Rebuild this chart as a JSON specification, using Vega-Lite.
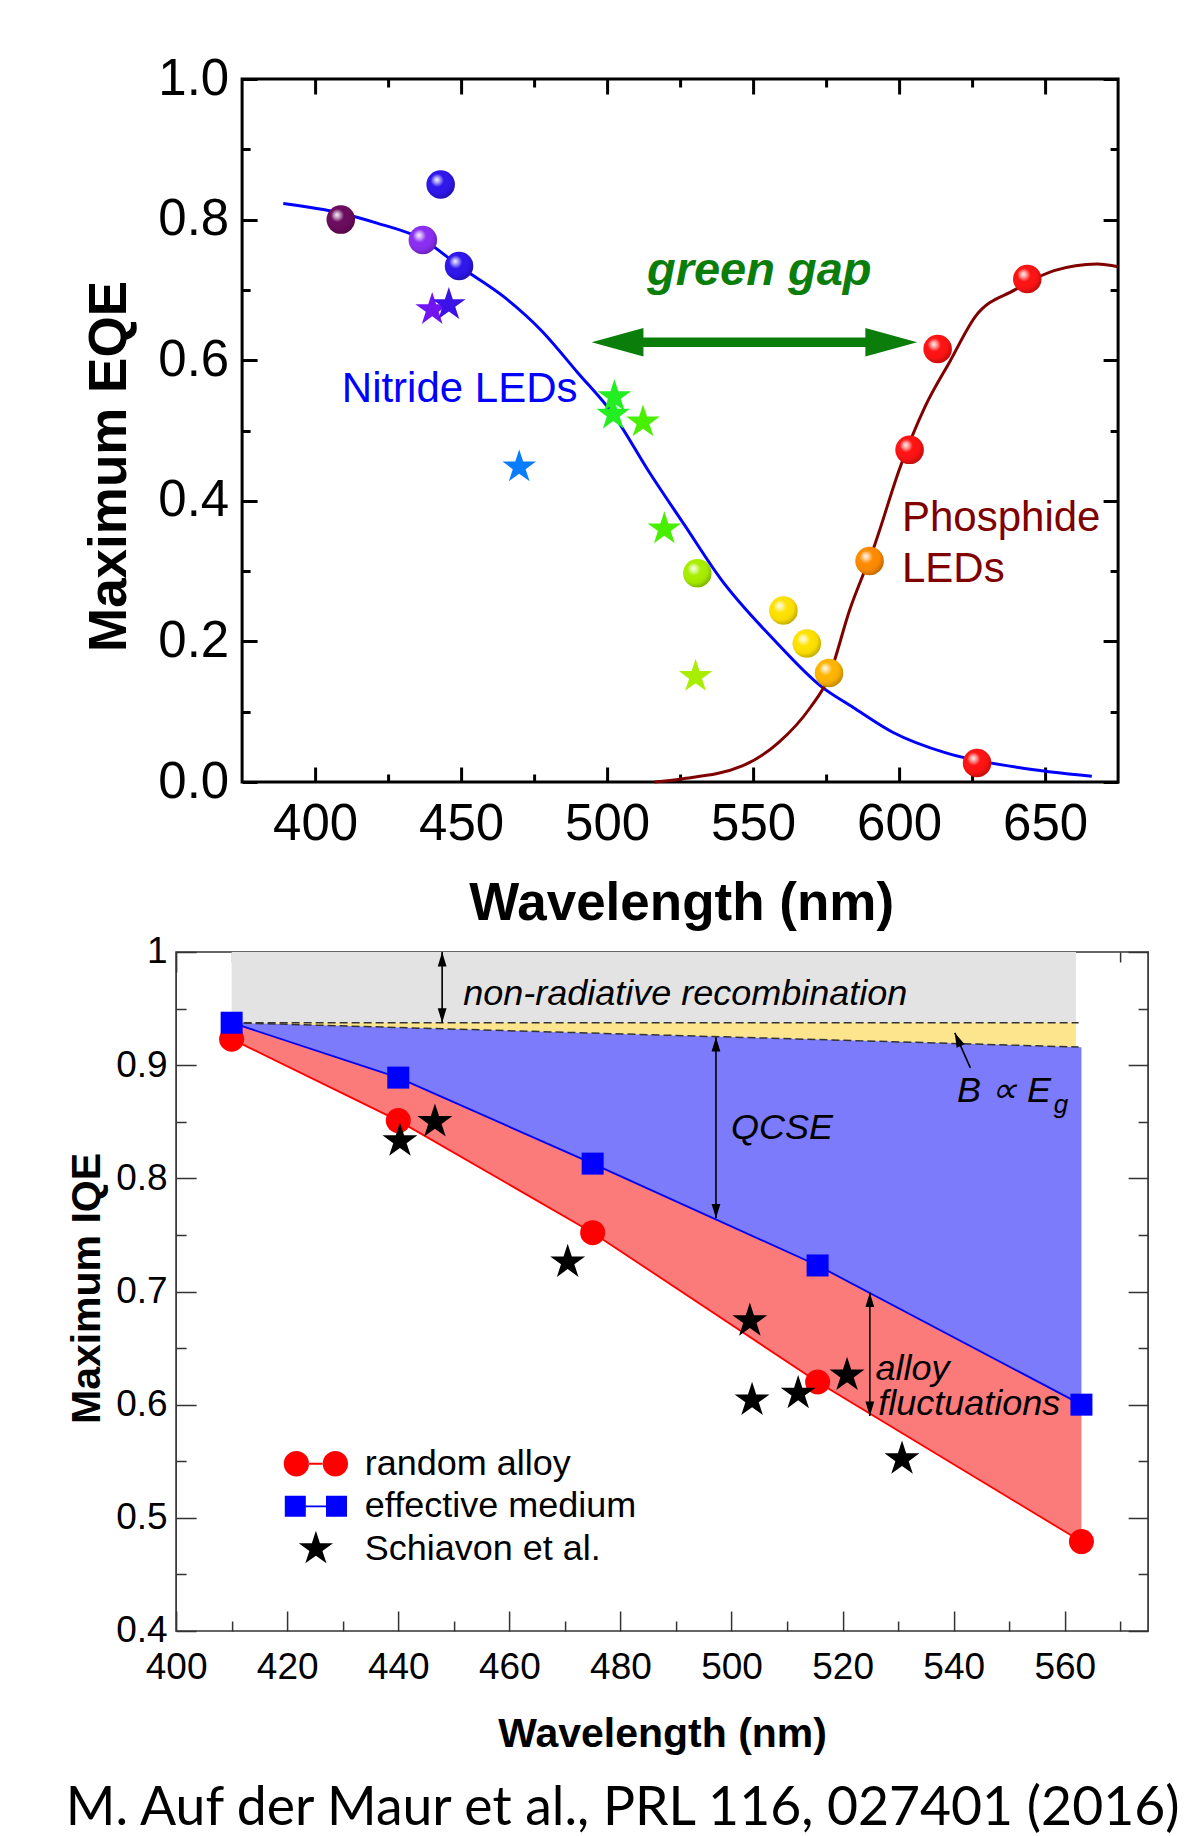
{
  "$schema": "https://vega.github.io/schema/vega-lite/v6.json",
  "background": "#ffffff",
  "padding": {"left": 65.1, "top": 51, "right": 0, "bottom": 0},
  "spacing": 0,
  "resolve": {"scale": {"color": "independent", "shape": "independent"}, "legend": {"color": "independent", "shape": "independent"}},
  "title": {"text": "M. Auf der Maur et al., PRL 116, 027401 (2016)", "orient": "bottom", "anchor": "start", "font": "Lato", "fontSize": 53.5, "fontWeight": "normal", "color": "#000000", "offset": 27.5, "dx": 0},
  "config": {
    "view": {"stroke": null},
    "axis": {"zindex": 1, "domain": false, "grid": false, "labelOverlap": false, "labelFlush": false, "labelFont": "Liberation Sans", "titleFont": "Liberation Sans", "labelColor": "#000000", "titleColor": "#000000", "titleFontWeight": "bold"},
    "text": {"font": "Liberation Sans"}
  },
  "datasets": {
    "eqeCurves": [
      {"c": "Nitride LEDs", "wl": 389.1, "eqe": 0.823},
      {"c": "Nitride LEDs", "wl": 408.6, "eqe": 0.8095},
      {"c": "Nitride LEDs", "wl": 421.2, "eqe": 0.795},
      {"c": "Nitride LEDs", "wl": 437.2, "eqe": 0.771},
      {"c": "Nitride LEDs", "wl": 449.3, "eqe": 0.734},
      {"c": "Nitride LEDs", "wl": 464.7, "eqe": 0.69},
      {"c": "Nitride LEDs", "wl": 477.3, "eqe": 0.643},
      {"c": "Nitride LEDs", "wl": 489.8, "eqe": 0.583},
      {"c": "Nitride LEDs", "wl": 502.1, "eqe": 0.523},
      {"c": "Nitride LEDs", "wl": 514.4, "eqe": 0.441},
      {"c": "Nitride LEDs", "wl": 526.6, "eqe": 0.365},
      {"c": "Nitride LEDs", "wl": 538.9, "eqe": 0.289},
      {"c": "Nitride LEDs", "wl": 557.3, "eqe": 0.2016},
      {"c": "Nitride LEDs", "wl": 573.3, "eqe": 0.136},
      {"c": "Nitride LEDs", "wl": 584.3, "eqe": 0.106},
      {"c": "Nitride LEDs", "wl": 597.8, "eqe": 0.0708},
      {"c": "Nitride LEDs", "wl": 616.3, "eqe": 0.041},
      {"c": "Nitride LEDs", "wl": 640.8, "eqe": 0.0207},
      {"c": "Nitride LEDs", "wl": 666, "eqe": 0.0082},
      {"c": "Phosphide LEDs", "wl": 516.2, "eqe": 0},
      {"c": "Phosphide LEDs", "wl": 525.4, "eqe": 0.0044},
      {"c": "Phosphide LEDs", "wl": 546.3, "eqe": 0.0229},
      {"c": "Phosphide LEDs", "wl": 558.6, "eqe": 0.0556},
      {"c": "Phosphide LEDs", "wl": 569.6, "eqe": 0.106},
      {"c": "Phosphide LEDs", "wl": 575.7, "eqe": 0.147},
      {"c": "Phosphide LEDs", "wl": 583.1, "eqe": 0.245},
      {"c": "Phosphide LEDs", "wl": 591.7, "eqe": 0.338},
      {"c": "Phosphide LEDs", "wl": 600.3, "eqe": 0.447},
      {"c": "Phosphide LEDs", "wl": 608.9, "eqe": 0.534},
      {"c": "Phosphide LEDs", "wl": 617.5, "eqe": 0.599},
      {"c": "Phosphide LEDs", "wl": 626.1, "eqe": 0.662},
      {"c": "Phosphide LEDs", "wl": 639.6, "eqe": 0.7},
      {"c": "Phosphide LEDs", "wl": 653.1, "eqe": 0.7275},
      {"c": "Phosphide LEDs", "wl": 667.8, "eqe": 0.737},
      {"c": "Phosphide LEDs", "wl": 675, "eqe": 0.733}
    ],
    "eqePoints": [
      {"kind": "star", "c": "violetstar", "wl": 440.1, "eqe": 0.672},
      {"kind": "star", "c": "indigo", "wl": 445.8, "eqe": 0.679},
      {"kind": "star", "c": "azure", "wl": 469.9, "eqe": 0.448},
      {"kind": "star", "c": "green", "wl": 502.5, "eqe": 0.548},
      {"kind": "star", "c": "green", "wl": 502.1, "eqe": 0.523},
      {"kind": "star", "c": "lime", "wl": 512.3, "eqe": 0.512},
      {"kind": "star", "c": "lime", "wl": 519.6, "eqe": 0.36},
      {"kind": "star", "c": "chartreuse", "wl": 530.3, "eqe": 0.15},
      {"kind": "ball", "c": "purple", "wl": 408.8, "eqe": 0.8},
      {"kind": "ball", "c": "violet", "wl": 436.9, "eqe": 0.771},
      {"kind": "ball", "c": "blue", "wl": 443.0, "eqe": 0.85},
      {"kind": "ball", "c": "blue", "wl": 449.3, "eqe": 0.734},
      {"kind": "ball", "c": "chartreuse", "wl": 530.9, "eqe": 0.297},
      {"kind": "ball", "c": "yellow", "wl": 560.4, "eqe": 0.244},
      {"kind": "ball", "c": "yellow", "wl": 568.4, "eqe": 0.197},
      {"kind": "ball", "c": "amber", "wl": 576.0, "eqe": 0.155},
      {"kind": "ball", "c": "orange", "wl": 589.9, "eqe": 0.3144},
      {"kind": "ball", "c": "red", "wl": 603.6, "eqe": 0.4725},
      {"kind": "ball", "c": "red", "wl": 613.2, "eqe": 0.616},
      {"kind": "ball", "c": "red", "wl": 643.9, "eqe": 0.7155},
      {"kind": "ball", "c": "red", "wl": 626.7, "eqe": 0.027}
    ],
    "iqePoints": [
      {"series": "effective medium", "wl": 410, "iqe": 0.9375},
      {"series": "effective medium", "wl": 440, "iqe": 0.889},
      {"series": "effective medium", "wl": 475, "iqe": 0.813},
      {"series": "effective medium", "wl": 515.5, "iqe": 0.723},
      {"series": "effective medium", "wl": 563, "iqe": 0.6},
      {"series": "random alloy", "wl": 410, "iqe": 0.923},
      {"series": "random alloy", "wl": 440, "iqe": 0.851},
      {"series": "random alloy", "wl": 475, "iqe": 0.752},
      {"series": "random alloy", "wl": 515.5, "iqe": 0.62},
      {"series": "random alloy", "wl": 563, "iqe": 0.479},
      {"series": "Schiavon et al.", "wl": 440.3, "iqe": 0.833},
      {"series": "Schiavon et al.", "wl": 446.6, "iqe": 0.85},
      {"series": "Schiavon et al.", "wl": 470.5, "iqe": 0.726},
      {"series": "Schiavon et al.", "wl": 503.3, "iqe": 0.674},
      {"series": "Schiavon et al.", "wl": 503.7, "iqe": 0.604},
      {"series": "Schiavon et al.", "wl": 512.0, "iqe": 0.61},
      {"series": "Schiavon et al.", "wl": 520.8, "iqe": 0.626},
      {"series": "Schiavon et al.", "wl": 530.7, "iqe": 0.552}
    ],
    "arrows": [
      {"wl": 447.9, "top": 1.0, "bot": 0.9375},
      {"wl": 497.2, "top": 0.9247, "bot": 0.7647},
      {"wl": 524.9, "top": 0.699, "bot": 0.59}
    ]
  },
  "vconcat": [
    {
      "spacing": 65,
      "bounds": "flush",
      "hconcat": [
        {"width": 1, "height": 1, "data": {"values": []}, "mark": {"type": "point", "opacity": 0}, "view": {"stroke": null}},
        {
          "width": 876, "height": 703,
          "view": {"stroke": "#000000", "strokeWidth": 3},
          "resolve": {"axis": {"x": "independent", "y": "independent"}},
          "layer": [
            {
              "data": {"name": "eqeCurves"},
              "mark": {"type": "line", "interpolate": "monotone", "strokeWidth": 3},
              "encoding": {
                "x": {"field": "wl", "type": "quantitative", "scale": {"domain": [375, 675], "nice": false, "zero": false},
                  "axis": {"orient": "bottom", "values": [400, 425, 450, 475, 500, 525, 550, 575, 600, 625, 650],
                    "tickSize": {"condition": {"test": "datum.value % 50 === 0", "value": -15}, "value": -8},
                    "tickWidth": 3, "tickColor": "#000000",
                    "labelExpr": "datum.value % 50 === 0 ? datum.label : ''",
                    "labelFontSize": 51, "labelPadding": 32, "labelFlush": false,
                    "title": "Wavelength (nm)", "titleFontSize": 53, "titleX": 439, "titleY": 95, "titleBaseline": "top", "titleAlign": "center"}},
                "y": {"field": "eqe", "type": "quantitative", "scale": {"domain": [0, 1], "nice": false},
                  "axis": {"orient": "left", "values": [0, 0.1, 0.2, 0.3, 0.4, 0.5, 0.6, 0.7, 0.8, 0.9, 1],
                    "tickSize": {"condition": {"test": "round(datum.value*10) % 2 === 0", "value": -15}, "value": -8},
                    "tickWidth": 3, "tickColor": "#000000",
                    "labelExpr": "round(datum.value*10) % 2 === 0 ? format(datum.value, '.1f') : ''",
                    "labelFontSize": 51, "labelPadding": 28.4,
                    "title": "Maximum EQE", "titleFontSize": 53, "titleX": -105.5, "titleY": 387, "titleAngle": 270, "titleBaseline": "bottom", "titleAlign": "center"}},
                "color": {"field": "c", "type": "nominal",
                  "scale": {"domain": ["Nitride LEDs", "Phosphide LEDs", "purple", "violet", "blue", "violetstar", "indigo", "azure", "green", "lime", "chartreuse", "yellow", "amber", "orange", "red"],
                            "range": ["#0000ff", "#800000", "#6b0a5e", "#8a2ef2", "#2e16ec", "#7214f2", "#3c12e6", "#0a7dff", "#22ee22", "#48ef00", "#a8ee00", "#ffe200", "#ffb400", "#ff8a00", "#ff1212"]},
                  "legend": null}
              }
            },
            {
              "data": {"values": [{"wl": 505, "wl2": 596, "eqe": 0.6256}]},
              "mark": {"type": "rule", "strokeWidth": 9.5, "color": "#0b7d0b"},
              "encoding": {
                "x": {"field": "wl", "type": "quantitative",
                  "axis": {"orient": "top", "values": [400, 425, 450, 475, 500, 525, 550, 575, 600, 625, 650], "labels": false, "title": null,
                    "tickSize": {"condition": {"test": "datum.value % 50 === 0", "value": -15}, "value": -8}, "tickWidth": 3, "tickColor": "#000000"}},
                "x2": {"field": "wl2"},
                "y": {"field": "eqe", "type": "quantitative",
                  "axis": {"orient": "right", "values": [0, 0.1, 0.2, 0.3, 0.4, 0.5, 0.6, 0.7, 0.8, 0.9, 1], "labels": false, "title": null,
                    "tickSize": {"condition": {"test": "round(datum.value*10) % 2 === 0", "value": -15}, "value": -8}, "tickWidth": 3, "tickColor": "#000000"}}
              }
            },
            {
              "data": {"values": [{"wl": 494.7, "eqe": 0.6256}]},
              "mark": {"type": "point", "shape": "M0,0L3.7,-1.02L3.7,1.02Z", "size": 784, "filled": true, "opacity": 1, "color": "#0b7d0b", "strokeWidth": 0},
              "encoding": {"x": {"field": "wl", "type": "quantitative", "axis": null}, "y": {"field": "eqe", "type": "quantitative", "axis": null}}
            },
            {
              "data": {"values": [{"wl": 606.2, "eqe": 0.6256}]},
              "mark": {"type": "point", "shape": "M0,0L-3.7,-1.02L-3.7,1.02Z", "size": 784, "filled": true, "opacity": 1, "color": "#0b7d0b", "strokeWidth": 0},
              "encoding": {"x": {"field": "wl", "type": "quantitative", "axis": null}, "y": {"field": "eqe", "type": "quantitative", "axis": null}}
            },
            {
              "data": {"values": [{"t": "green gap", "wl": 552.1, "eqe": 0.7275}]},
              "mark": {"type": "text", "fontSize": 47, "fontWeight": "bold", "fontStyle": "italic", "color": "#0b7d0b", "align": "center", "baseline": "middle"},
              "encoding": {"x": {"field": "wl", "type": "quantitative", "axis": null}, "y": {"field": "eqe", "type": "quantitative", "axis": null}, "text": {"field": "t"}}
            },
            {
              "data": {"values": [{"t": "Nitride LEDs", "wl": 449.5, "eqe": 0.5595}]},
              "mark": {"type": "text", "fontSize": 42, "color": "#0000ff", "align": "center", "baseline": "middle"},
              "encoding": {"x": {"field": "wl", "type": "quantitative", "axis": null}, "y": {"field": "eqe", "type": "quantitative", "axis": null}, "text": {"field": "t"}}
            },
            {
              "data": {"values": [{"t": "Phosphide", "wl": 601, "eqe": 0.376}, {"t": "LEDs", "wl": 601, "eqe": 0.3025}]},
              "mark": {"type": "text", "fontSize": 42, "color": "#800000", "align": "left", "baseline": "middle"},
              "encoding": {"x": {"field": "wl", "type": "quantitative", "axis": null}, "y": {"field": "eqe", "type": "quantitative", "axis": null}, "text": {"field": "t"}}
            },
            {
              "data": {"name": "eqePoints"},
              "transform": [{"filter": "datum.kind === 'star'"}],
              "mark": {"type": "point", "shape": "M0,-1L0.2245,-0.309L0.9511,-0.309L0.3633,0.118L0.5878,0.809L0,0.382L-0.5878,0.809L-0.3633,0.118L-0.9511,-0.309L-0.2245,-0.309Z", "size": 1250, "filled": true, "opacity": 1, "strokeWidth": 0},
              "encoding": {"x": {"field": "wl", "type": "quantitative", "axis": null}, "y": {"field": "eqe", "type": "quantitative", "axis": null}, "color": {"field": "c", "type": "nominal", "legend": null}}
            },
            {
              "data": {"name": "eqePoints"},
              "transform": [{"filter": "datum.kind === 'ball'"}],
              "mark": {"type": "point", "shape": "circle", "size": 812, "filled": true, "opacity": 1, "strokeWidth": 0},
              "encoding": {"x": {"field": "wl", "type": "quantitative", "axis": null}, "y": {"field": "eqe", "type": "quantitative", "axis": null}, "color": {"field": "c", "type": "nominal", "legend": null}}
            },
            {
              "data": {"name": "eqePoints"},
              "transform": [{"filter": "datum.kind === 'ball'"}],
              "mark": {"type": "point", "shape": "circle", "size": 812, "opacity": 1, "strokeWidth": 0,
                "fill": {"gradient": "radial", "x1": 0.36, "y1": 0.33, "r1": 0, "x2": 0.42, "y2": 0.4, "r2": 0.62,
                  "stops": [{"offset": 0, "color": "rgba(255,255,255,0.95)"}, {"offset": 0.16, "color": "rgba(255,255,255,0.6)"}, {"offset": 0.38, "color": "rgba(255,255,255,0)"}, {"offset": 0.75, "color": "rgba(0,0,0,0.04)"}, {"offset": 1, "color": "rgba(0,0,0,0.25)"}]}},
              "encoding": {"x": {"field": "wl", "type": "quantitative", "axis": null}, "y": {"field": "eqe", "type": "quantitative", "axis": null}}
            }
          ]
        }
      ]
    },
    {
      "width": 972, "height": 679,
      "view": {"stroke": "#333333", "strokeWidth": 1.7},
      "resolve": {"axis": {"x": "independent", "y": "independent"}},
      "layer": [
        {
          "data": {"values": [{"wl": 410, "lo": 0.9375, "hi": 1}, {"wl": 562, "lo": 0.9375, "hi": 1}]},
          "mark": {"type": "area", "color": "#e3e3e3", "opacity": 1},
          "encoding": {
            "x": {"field": "wl", "type": "quantitative", "scale": {"domain": [400, 575], "nice": false, "zero": false},
              "axis": {"orient": "bottom", "values": [400, 410, 420, 430, 440, 450, 460, 470, 480, 490, 500, 510, 520, 530, 540, 550, 560, 570],
                "tickSize": {"condition": {"test": "datum.value % 20 === 0", "value": -20}, "value": -10},
                "tickWidth": 1.5, "tickColor": "#333333",
                "labelExpr": "datum.value % 20 === 0 ? datum.label : ''",
                "labelFontSize": 37, "labelPadding": 38.5, "labelFlush": false,
                "title": "Wavelength (nm)", "titleFontSize": 41, "titleX": 486, "titleY": 84, "titleBaseline": "top", "titleAlign": "center"}},
            "y": {"field": "lo", "type": "quantitative", "scale": {"domain": [0.4, 1], "nice": false, "zero": false},
              "axis": {"orient": "left", "values": [0.4, 0.45, 0.5, 0.55, 0.6, 0.65, 0.7, 0.75, 0.8, 0.85, 0.9, 0.95, 1],
                "tickSize": {"condition": {"test": "round(datum.value*100) % 10 === 0", "value": -20}, "value": -10},
                "tickWidth": 1.5, "tickColor": "#333333",
                "labelExpr": "round(datum.value*100) % 10 === 0 ? format(datum.value, '~g') : ''",
                "labelFontSize": 37, "labelPadding": 29,
                "title": "Maximum IQE", "titleFontSize": 41, "titleX": -67.4, "titleY": 336, "titleAngle": 270, "titleBaseline": "bottom", "titleAlign": "center"}},
            "y2": {"field": "hi"}
          }
        },
        {
          "data": {"values": [{"wl": 410, "lo": 0.9375, "hi": 0.9375}, {"wl": 562, "lo": 0.916, "hi": 0.9375}]},
          "mark": {"type": "area", "color": "#fce58c", "opacity": 1},
          "encoding": {"x": {"field": "wl", "type": "quantitative", "axis": null}, "y": {"field": "lo", "type": "quantitative", "axis": null}, "y2": {"field": "hi"}}
        },
        {
          "data": {"values": [{"wl": 410, "lo": 0.9375, "hi": 0.9375}, {"wl": 440, "lo": 0.889, "hi": 0.9333}, {"wl": 475, "lo": 0.813, "hi": 0.9283}, {"wl": 515.5, "lo": 0.723, "hi": 0.9226}, {"wl": 563, "lo": 0.6, "hi": 0.9159}]},
          "mark": {"type": "area", "color": "#7b7bfb", "opacity": 1},
          "encoding": {"x": {"field": "wl", "type": "quantitative", "axis": null}, "y": {"field": "lo", "type": "quantitative", "axis": null}, "y2": {"field": "hi"}}
        },
        {
          "data": {"values": [{"wl": 410, "lo": 0.923, "hi": 0.9375}, {"wl": 440, "lo": 0.851, "hi": 0.889}, {"wl": 475, "lo": 0.752, "hi": 0.813}, {"wl": 515.5, "lo": 0.62, "hi": 0.723}, {"wl": 563, "lo": 0.479, "hi": 0.6}]},
          "mark": {"type": "area", "color": "#fb7b7b", "opacity": 1},
          "encoding": {"x": {"field": "wl", "type": "quantitative", "axis": null}, "y": {"field": "lo", "type": "quantitative", "axis": null}, "y2": {"field": "hi"}}
        },
        {
          "data": {"values": [{"ln": "upper", "wl": 410, "v": 0.9375}, {"ln": "upper", "wl": 562.5, "v": 0.9375}, {"ln": "lower", "wl": 410, "v": 0.9375}, {"ln": "lower", "wl": 562.5, "v": 0.916}]},
          "mark": {"type": "line", "strokeDash": [8, 4], "strokeWidth": 1.5, "color": "#333333"},
          "encoding": {
            "x": {"field": "wl", "type": "quantitative",
              "axis": {"orient": "top", "values": [400, 410, 420, 430, 440, 450, 460, 470, 480, 490, 500, 510, 520, 530, 540, 550, 560, 570], "labels": false, "title": null,
                "tickSize": {"condition": {"test": "datum.value % 20 === 0", "value": -20}, "value": -10}, "tickWidth": 1.5, "tickColor": "#333333"}},
            "y": {"field": "v", "type": "quantitative",
              "axis": {"orient": "right", "values": [0.4, 0.45, 0.5, 0.55, 0.6, 0.65, 0.7, 0.75, 0.8, 0.85, 0.9, 0.95, 1], "labels": false, "title": null,
                "tickSize": {"condition": {"test": "round(datum.value*100) % 10 === 0", "value": -20}, "value": -10}, "tickWidth": 1.5, "tickColor": "#333333"}},
            "detail": {"field": "ln", "type": "nominal"}
          }
        },
        {
          "data": {"name": "iqePoints"},
          "transform": [{"filter": "datum.series === 'effective medium'"}],
          "mark": {"type": "line", "color": "#0000ff", "strokeWidth": 1.8},
          "encoding": {"x": {"field": "wl", "type": "quantitative", "axis": null}, "y": {"field": "iqe", "type": "quantitative", "axis": null}}
        },
        {
          "data": {"name": "iqePoints"},
          "transform": [{"filter": "datum.series === 'random alloy'"}],
          "mark": {"type": "line", "color": "#ff0000", "strokeWidth": 1.8},
          "encoding": {"x": {"field": "wl", "type": "quantitative", "axis": null}, "y": {"field": "iqe", "type": "quantitative", "axis": null}}
        },
        {
          "data": {"name": "arrows"},
          "mark": {"type": "rule", "color": "#000000", "strokeWidth": 1.6},
          "encoding": {"x": {"field": "wl", "type": "quantitative", "axis": null}, "y": {"field": "bot", "type": "quantitative", "axis": null}, "y2": {"field": "top"}}
        },
        {
          "data": {"name": "arrows"},
          "mark": {"type": "point", "shape": "M0,0L0.55,1.8L-0.55,1.8Z", "size": 256, "filled": true, "opacity": 1, "color": "#000000", "strokeWidth": 0},
          "encoding": {"x": {"field": "wl", "type": "quantitative", "axis": null}, "y": {"field": "top", "type": "quantitative", "axis": null}}
        },
        {
          "data": {"name": "arrows"},
          "mark": {"type": "point", "shape": "M0,0L0.55,-1.8L-0.55,-1.8Z", "size": 256, "filled": true, "opacity": 1, "color": "#000000", "strokeWidth": 0},
          "encoding": {"x": {"field": "wl", "type": "quantitative", "axis": null}, "y": {"field": "bot", "type": "quantitative", "axis": null}}
        },
        {
          "data": {"values": [{"wl": 543, "v": 0.8976, "wl2": 540.2, "v2": 0.9285}]},
          "mark": {"type": "rule", "color": "#000000", "strokeWidth": 1.6},
          "encoding": {"x": {"field": "wl", "type": "quantitative", "axis": null}, "x2": {"field": "wl2"}, "y": {"field": "v", "type": "quantitative", "axis": null}, "y2": {"field": "v2"}}
        },
        {
          "data": {"values": [{"wl": 540.2, "v": 0.9285}]},
          "mark": {"type": "point", "shape": "M0,0L0.55,1.8L-0.55,1.8Z", "size": 256, "filled": true, "opacity": 1, "color": "#000000", "strokeWidth": 0, "angle": -24},
          "encoding": {"x": {"field": "wl", "type": "quantitative", "axis": null}, "y": {"field": "v", "type": "quantitative", "axis": null}}
        },
        {
          "data": {"values": [
            {"t": "non-radiative recombination", "wl": 451.7, "v": 0.9627},
            {"t": "QCSE", "wl": 499.9, "v": 0.8447},
            {"t": "alloy", "wl": 525.9, "v": 0.6315},
            {"t": "fluctuations", "wl": 526.4, "v": 0.6006},
            {"t": "B ∝ E", "wl": 540.6, "v": 0.877}
          ]},
          "mark": {"type": "text", "fontSize": 36, "fontStyle": "italic", "align": "left", "baseline": "middle", "color": "#000000"},
          "encoding": {"x": {"field": "wl", "type": "quantitative", "axis": null}, "y": {"field": "v", "type": "quantitative", "axis": null}, "text": {"field": "t"}}
        },
        {
          "data": {"values": [{"t": "g", "wl": 558, "v": 0.865}]},
          "mark": {"type": "text", "fontSize": 26, "fontStyle": "italic", "align": "left", "baseline": "middle", "color": "#000000"},
          "encoding": {"x": {"field": "wl", "type": "quantitative", "axis": null}, "y": {"field": "v", "type": "quantitative", "axis": null}, "text": {"field": "t"}}
        },
        {
          "data": {"name": "iqePoints"},
          "transform": [{"filter": "datum.series === 'random alloy'"}],
          "mark": {"type": "point", "shape": "circle", "size": 625, "filled": true, "opacity": 1, "strokeWidth": 0, "color": "#ff0000"},
          "encoding": {"x": {"field": "wl", "type": "quantitative", "axis": null}, "y": {"field": "iqe", "type": "quantitative", "axis": null}}
        },
        {
          "data": {"name": "iqePoints"},
          "transform": [{"filter": "datum.series === 'effective medium'"}],
          "mark": {"type": "point", "shape": "square", "size": 484, "filled": true, "opacity": 1, "strokeWidth": 0, "color": "#0000ff"},
          "encoding": {"x": {"field": "wl", "type": "quantitative", "axis": null}, "y": {"field": "iqe", "type": "quantitative", "axis": null}}
        },
        {
          "data": {"name": "iqePoints"},
          "transform": [{"filter": "datum.series === 'Schiavon et al.'"}],
          "mark": {"type": "point", "shape": "M0,-1L0.2245,-0.309L0.9511,-0.309L0.3633,0.118L0.5878,0.809L0,0.382L-0.5878,0.809L-0.3633,0.118L-0.9511,-0.309L-0.2245,-0.309Z", "size": 1350, "filled": true, "opacity": 1, "strokeWidth": 0, "color": "#000000"},
          "encoding": {"x": {"field": "wl", "type": "quantitative", "axis": null}, "y": {"field": "iqe", "type": "quantitative", "axis": null}}
        },
        {
          "data": {"values": []},
          "mark": {"type": "point", "filled": true, "opacity": 1, "strokeWidth": 0},
          "encoding": {
            "shape": {"field": "series", "type": "nominal",
              "scale": {"domain": ["random alloy", "effective medium", "Schiavon et al."],
                        "range": ["M-1.788,0A0.705,0.705 0 1,0 -0.378,0A0.705,0.705 0 1,0 -1.788,0ZM0.378,0A0.705,0.705 0 1,0 1.788,0A0.705,0.705 0 1,0 0.378,0ZM-0.4,-0.055H0.4V0.055H-0.4Z",
                                  "M-1.728,-0.583H-0.561V0.583H-1.728ZM0.561,-0.583H1.728V0.583H0.561ZM-0.6,-0.05H0.6V0.05H-0.6Z",
                                  "M0,-1L0.2245,-0.309L0.9511,-0.309L0.3633,0.118L0.5878,0.809L0,0.382L-0.5878,0.809L-0.3633,0.118L-0.9511,-0.309L-0.2245,-0.309Z"]},
              "legend": {"orient": "none", "legendX": 121.8, "legendY": 493.8, "title": null, "direction": "vertical",
                "labelFont": "Liberation Sans", "labelFontSize": 36, "labelColor": "#000000", "labelLimit": 500,
                "symbolSize": 1296, "symbolStrokeWidth": 0, "symbolOpacity": 1, "labelOffset": 30.9, "rowPadding": 6.5, "padding": 0}},
            "color": {"field": "series", "type": "nominal",
              "scale": {"domain": ["random alloy", "effective medium", "Schiavon et al."], "range": ["#ff0000", "#0000ff", "#000000"]},
              "legend": {"orient": "none", "legendX": 121.8, "legendY": 493.8, "title": null, "direction": "vertical",
                "labelFont": "Liberation Sans", "labelFontSize": 36, "labelColor": "#000000", "labelLimit": 500,
                "symbolSize": 1296, "symbolStrokeWidth": 0, "symbolOpacity": 1, "labelOffset": 30.9, "rowPadding": 6.5, "padding": 0}}
          }
        }
      ]
    }
  ]
}
